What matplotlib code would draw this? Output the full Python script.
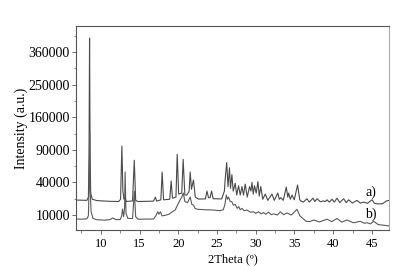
import numpy as np
import matplotlib
matplotlib.use("Agg")
import matplotlib.pyplot as plt
from matplotlib.ticker import FixedLocator, MultipleLocator

# curve a) (upper pattern) : 2theta, intensity
theta_a = [6.8, 8.2, 8.4, 8.48, 8.55, 8.62, 8.7, 8.9, 9.5, 11.0, 12.3, 12.55, 12.72, 12.85, 13.0, 13.1, 13.3,
           14.1, 14.32, 14.5, 14.8, 16.8, 17.05, 17.2, 17.75, 17.92, 18.1, 18.9, 19.08, 19.25, 19.7, 19.86, 20.05,
           20.45, 20.63, 20.85, 21.1, 21.4, 21.54, 21.7, 21.96, 22.2, 22.6, 23.5, 23.7, 23.9, 24.1, 24.3, 24.5,
           25.6, 25.95, 26.06, 26.25, 26.42, 26.61, 26.74, 26.92, 27.09, 27.35, 27.54, 27.78, 28.0, 28.22, 28.42,
           28.64, 28.9, 29.2, 29.38, 29.51, 29.68, 29.84, 30.06, 30.28, 30.45, 30.65, 30.9, 31.23, 31.55, 32.09,
           32.39, 32.84, 33.04, 33.23, 33.55, 33.94, 34.13, 34.24, 34.46, 34.68, 34.97, 35.4, 35.68, 35.81,
           36.14, 36.61, 36.91, 37.39, 37.62, 37.91, 38.33, 38.72, 39.0, 39.2, 39.5, 39.84, 40.14, 40.49, 40.85,
           41.34, 41.69, 41.99, 42.47, 43.07, 43.5, 43.93, 44.41, 45.01, 45.31, 45.7, 46.34, 46.86, 47.25]
int_a = [21300, 21000, 24000, 80000, 413000, 80000, 28000, 22000, 20800, 20200, 20000, 22000, 97000, 30000, 22000, 23500, 20000,
         20500, 72000, 21000, 20000, 20300, 24000, 20400, 21500, 53800, 21500, 22000, 41700, 23000, 24000, 81900, 27000,
         28000, 73400, 26000, 26000, 30000, 53800, 32000, 43000, 24000, 22200, 22300, 30100, 23500, 23500, 30100, 22500,
         22300, 30000, 45000, 68000, 35000, 60000, 33000, 50000, 30000, 38900, 26000, 36000, 26000, 35000, 26000,
         38000, 24000, 35000, 30000, 40000, 27000, 36000, 28000, 41000, 25000, 35000, 22000, 27000, 21000, 27000,
         21000, 28000, 22000, 23500, 21000, 34500, 24000, 28000, 22000, 26000, 21500, 36900, 21500, 20500,
         19500, 22500, 19500, 23000, 20000, 22500, 19800, 20500, 20000, 21500, 19500, 22000, 19500, 23000, 19000,
         22500, 19000, 21500, 18700, 21000, 18600, 19500, 18500, 21500, 18500, 18000, 18000, 20500, 21000]

# curve b) (lower pattern)
theta_b = [6.8, 7.5, 8.2, 8.4, 8.5, 8.56, 8.63, 8.75, 9.0, 9.5, 10.5, 11.2, 11.55, 11.9, 12.5, 12.7, 12.8, 12.95,
           13.07, 13.14, 13.25, 13.5, 14.1, 14.33, 14.5, 14.8, 16.8, 17.1, 17.36, 17.5, 17.7, 17.9, 18.3, 18.8,
           19.2, 19.6, 19.9, 20.2, 20.45, 20.65, 20.85, 21.2, 21.54, 21.75, 21.96, 22.15, 22.5, 23.5, 24.5, 25.4,
           25.8, 26.0, 26.2, 26.35, 26.5, 26.7, 26.92, 27.1, 27.35, 27.6, 27.8, 28.0, 28.22, 28.5, 28.86, 29.3,
           29.72, 30.0, 30.36, 30.7, 31.0, 31.3, 31.65, 32.0, 32.3, 32.8, 33.17, 33.6, 34.03, 34.6, 35.32, 35.7,
           36.0, 36.5, 37.0, 37.47, 38.2, 39.2, 39.8, 40.49, 41.1, 41.78, 42.6, 43.5, 44.0, 44.37, 44.8, 45.22,
           45.8, 46.3, 47.25]
int_b = [7700, 7600, 7800, 9500, 40000, 123600, 30000, 12000, 8000, 7300, 7100, 7400, 8300, 7400, 7400, 9500, 14000, 9000,
         15000, 53800, 11000, 8000, 8000, 30000, 9000, 7600, 7700, 9500, 12100, 10500, 12100, 9500, 9800, 10500,
         12000, 13300, 17000, 21000, 24000, 28000, 20000, 19000, 24100, 17500, 17100, 14500, 13800, 13500, 13300, 12800,
         13500, 17000, 26000, 22000, 24000, 20000, 19800, 17000, 17500, 14500, 15800, 13500, 14500, 12800, 13300, 11800,
         12100, 11000, 12100, 10700, 11600, 10500, 11800, 10200, 10700, 10000, 12100, 10200, 11300, 10000, 13800, 9500,
         8300, 6500, 6400, 7170, 6200, 7600, 6300, 8000, 6100, 7170, 5800, 6500, 5600, 5800, 5300, 6500,
         5000, 4800, 4400]

y_ticks = [10000, 40000, 90000, 160000, 250000, 360000]
y_minor = [22500, 62500, 122500, 202500, 302500, 422500]
x_ticks = [10, 15, 20, 25, 30, 35, 40, 45]

plt.rcParams['font.family'] = ['Liberation Serif', 'DejaVu Serif']

fig = plt.figure(figsize=(4.03, 2.70), dpi=100)
ax = fig.add_axes([0.1886, 0.1481, 0.7767, 0.7556])

ax.plot(theta_a, int_a, color='#4a4a4a', lw=0.8)
ax.plot(theta_b, int_b, color='#5a5a5a', lw=0.8)

# square-root intensity axis
ax.set_yscale('function', functions=(lambda v: np.sqrt(np.clip(v, 0, None)), lambda v: v ** 2))
ax.set_xlim(6.8, 47.2)
ax.set_ylim(2916, 462000)

ax.yaxis.set_major_locator(FixedLocator(y_ticks))
ax.yaxis.set_minor_locator(FixedLocator(y_minor))
ax.set_yticklabels([str(v) for v in y_ticks], fontsize=10)
ax.xaxis.set_major_locator(FixedLocator(x_ticks))
ax.xaxis.set_minor_locator(MultipleLocator(2.5))
ax.set_xticklabels([str(v) for v in x_ticks], fontsize=9)

ax.tick_params(axis='both', which='major', direction='out', length=3, width=0.6, color='#555555', pad=1.5)
ax.tick_params(axis='both', which='minor', direction='out', length=1.8, width=0.5, color='#555555')
ax.tick_params(axis='x', which='major', pad=3)

for side in ['left', 'top', 'bottom']:
    ax.spines[side].set_color('#555555')
    ax.spines[side].set_linewidth(0.8)
ax.spines['right'].set_color('#aaaaaa')
ax.spines['right'].set_linewidth(0.8)

ax.set_xlabel('2Theta (º)', fontsize=9, labelpad=2)
ax.set_ylabel('Intensity (a.u.)', fontsize=10, labelpad=0)

ax.text(44.9, 29000, 'a)', fontsize=10, ha='center', va='center')
ax.text(44.9, 10600, 'b)', fontsize=10, ha='center', va='center')

fig.savefig('out.png', dpi=100)
